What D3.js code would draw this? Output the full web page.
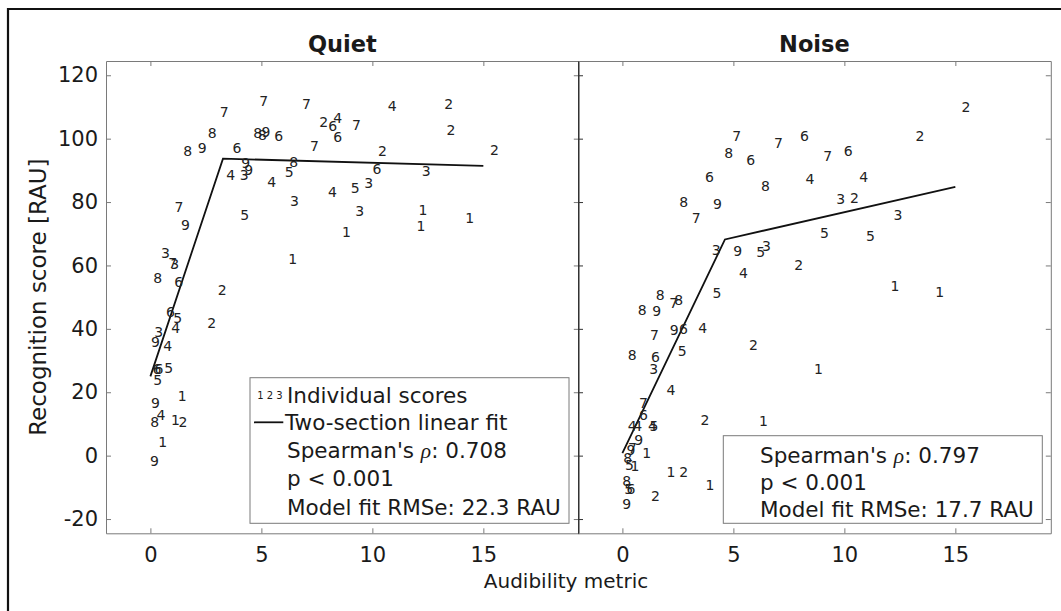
<!DOCTYPE html>
<html>
<head>
<meta charset="utf-8">
<script src="https://cdn.jsdelivr.net/npm/d3@7"></script>
<style>
  body { margin: 0; background: #fff; }
  svg  { display: block; font-family: "DejaVu Sans", sans-serif; }
</style>
</head>
<body>
<div id="chart"></div>
<script>

// --- data ---------------------------------------------------------------
const panelTitles = ["Quiet", "Noise"];
const xTicks = [0, 5, 10, 15];
const yTicks = [-20, 0, 20, 40, 60, 80, 100, 120];

// subject id, audibility metric, recognition score (Quiet)
const quietId = [7,7,7,2,6,4,6,8,8,8,9,6,7,8,9,6,9,9,3,4,8,5,4,3,4,5,7,9,
                 4,2,7,2,2,2,6,3,3,5,3,1,1,1,1,1,3,7,3,8,6,2,6,5,4,2,3,9,4,
                 6,6,5,5,1,9,4,8,1,2,1,9];
const quietX  = [3.33,5.10,7.03,7.81,8.21,8.44,8.44,2.78,4.83,5.05,5.21,5.78,7.39,1.68,2.34,3.90,
                 4.29,4.43,4.23,3.62,6.46,6.25,5.47,6.49,8.20,4.25,1.29,1.58,
                 10.89,13.44,9.28,13.54,10.46,15.50,10.21,12.43,9.83,9.23,9.43,12.28,12.19,14.38,
                 8.83,6.41,0.68,1.00,1.10,0.33,1.28,3.24,0.90,1.23,1.14,2.76,0.37,0.23,0.78,
                 0.30,0.39,0.83,0.33,1.43,0.23,0.48,0.19,1.13,1.47,0.56,0.18];
const quietY  = [108.4,111.9,111.0,105.2,104.0,106.6,100.5,101.7,101.9,101.1,102.1,101.0,97.7,96.1,97.1,97.1,
                 92.2,90.1,88.5,88.5,92.6,89.5,86.3,80.3,83.1,75.9,78.5,72.7,
                 110.3,111.0,104.3,102.6,96.1,96.4,90.3,89.7,86.1,84.5,77.1,77.4,72.4,74.9,
                 70.5,62.2,63.8,60.9,60.6,55.9,54.7,52.2,45.3,43.5,40.4,41.7,39.0,35.8,34.5,
                 27.2,27.2,27.7,24.0,18.7,16.6,12.9,10.5,11.4,10.5,4.3,-1.6];

// subject id, audibility metric, recognition score (Noise)
const noiseId = [7,8,7,6,6,6,8,8,9,7,3,9,5,3,2,2,7,6,4,4,3,2,3,5,5,4,5,2,8,7,8,8,9,9,6,4,
                 7,5,8,6,3,4,7,6,4,4,4,5,9,2,1,9,7,1,8,5,1,1,2,1,8,5,6,9,2,2,1,1,1];
const noiseX  = [5.15,4.79,7.03,8.20,5.78,3.92,6.44,2.76,4.28,3.32,4.23,5.19,6.23,6.49,
                 15.48,13.41,9.25,10.17,8.45,10.87,9.83,10.45,12.42,9.10,11.17,
                 5.45,4.26,5.90,1.70,2.31,2.54,0.89,1.55,2.34,2.75,3.62,1.44,2.69,0.44,1.49,1.41,
                 2.19,0.95,0.95,0.44,0.69,1.35,1.42,0.73,3.72,6.35,0.39,0.45,1.10,0.24,0.32,0.57,
                 2.19,2.76,3.95,0.19,0.28,0.39,0.19,1.49,7.94,12.28,14.30,8.83];
const noiseY  = [100.8,95.6,98.7,101.0,93.3,87.8,85.0,80.1,79.5,75.0,64.8,64.5,64.2,66.1,
                 110.0,101.0,94.5,96.1,87.4,87.9,81.0,81.4,76.0,70.3,69.2,
                 57.5,51.4,35.0,50.6,48.2,49.0,45.9,45.6,39.5,40.1,40.3,38.2,32.9,31.9,31.2,27.4,
                 20.8,16.6,12.9,9.3,9.3,9.3,9.3,5.1,11.2,10.8,1.9,2.5,1.0,-0.7,-2.8,-3.4,
                 -5.0,-5.0,-9.2,-8.1,-10.5,-10.5,-15.2,-12.8,60.3,53.5,51.7,27.2];

// two-section linear fits (start, breakpoint, end)
const quietFitX = [0, 3.27, 15];
const quietFitY = [25.0, 93.7, 91.4];
const noiseFitX = [0, 4.62, 15];
const noiseFitY = [0.8, 68.2, 84.8];

const rhoValues  = ["0.708", "0.797"];
const pTexts     = ["p < 0.001", "p < 0.001"];
const rmseValues = ["22.3", "17.7"];

// --- layout -------------------------------------------------------------
const width = 1061, height = 611;
const plotTop = 61, plotBottom = 533.3, panelW = 472.8;
const lefts = [106, 578];
const axisGray = "#7a7a7a", ink = "#1a1a1a";

const svg = d3.select("#chart").append("svg")
  .attr("width", width)
  .attr("height", height);

// outer frame (only top/left edges visible)
svg.append("path")
  .attr("d", `M8,${height} V9 H${width}`)
  .attr("fill", "none")
  .attr("stroke", "#111")
  .attr("stroke-width", 2.2);

const y = d3.scaleLinear().domain([-24.5, 124.5]).range([plotBottom, plotTop]);

function styleAxis(g, color) {
  g.attr("font-family", null).attr("font-size", 21).attr("color", color);
  g.selectAll("text").attr("fill", ink);
}

function drawPanel(i, ids, xs, ys, fitX, fitY) {
  const x0 = lefts[i], x1 = x0 + panelW;
  const x = d3.scaleLinear().domain([-2, 19.3]).range([x0, x1]);
  const g = svg.append("g");

  g.append("g")
    .attr("transform", `translate(0,${plotBottom})`)
    .call(d3.axisBottom(x).tickValues(xTicks).tickSize(-5).tickSizeOuter(0).tickPadding(14))
    .call(a => styleAxis(a, axisGray));

  g.append("g")
    .attr("transform", `translate(0,${plotTop})`)
    .call(d3.axisTop(x).tickValues(xTicks).tickSize(-5).tickSizeOuter(0).tickFormat(""))
    .call(a => styleAxis(a, axisGray));

  g.append("g")
    .attr("transform", `translate(${x1},0)`)
    .call(d3.axisRight(y).tickValues(yTicks).tickSize(-5).tickSizeOuter(0).tickFormat(""))
    .call(a => styleAxis(a, axisGray));

  g.append("g")
    .attr("transform", `translate(${x0},0)`)
    .call(d3.axisLeft(y).tickValues(yTicks).tickSize(-5).tickSizeOuter(0).tickPadding(8)
      .tickFormat(i === 0 ? (d => String(d)) : ""))
    .call(a => styleAxis(a, i === 0 ? axisGray : "#333"));

  // title
  g.append("text")
    .attr("x", (x0 + x1) / 2)
    .attr("y", 51.8)
    .attr("text-anchor", "middle")
    .attr("font-weight", "bold")
    .attr("font-size", 22.5)
    .attr("fill", ink)
    .text(panelTitles[i]);

  // fit line
  g.append("path")
    .datum(d3.range(fitX.length))
    .attr("fill", "none")
    .attr("stroke", "#111")
    .attr("stroke-width", 1.8)
    .attr("d", d3.line().x(k => x(fitX[k])).y(k => y(fitY[k])));

  // individual scores, drawn as subject digits
  g.append("g")
    .selectAll("text")
    .data(d3.range(ids.length))
    .join("text")
      .attr("x", k => x(xs[k]))
      .attr("y", k => y(ys[k]))
      .attr("dy", "0.36em")
      .attr("text-anchor", "middle")
      .attr("font-size", 14)
      .attr("fill", "#222")
      .text(k => ids[k]);
}

drawPanel(0, quietId, quietX, quietY, quietFitX, quietFitY);
drawPanel(1, noiseId, noiseX, noiseY, noiseFitX, noiseFitY);

// --- legends -------------------------------------------------------------
function statLines(g, i, tx, baselines) {
  const t1 = g.append("text").attr("x", tx).attr("y", baselines[0]);
  t1.append("tspan").text("Spearman's ");
  t1.append("tspan")
    .attr("font-family", "'Liberation Serif', serif")
    .attr("font-style", "italic")
    .text("\u03C1");
  t1.append("tspan").text(": " + rhoValues[i]);
  g.append("text").attr("x", tx).attr("y", baselines[1]).text(pTexts[i]);
  g.append("text").attr("x", tx).attr("y", baselines[2]).text("Model fit RMSe: " + rmseValues[i] + " RAU");
}

const leg1 = svg.append("g").attr("font-size", 21.5).attr("fill", ink);
leg1.append("rect")
  .attr("x", 250).attr("y", 377.7).attr("width", 319).attr("height", 145.6)
  .attr("fill", "#fff").attr("stroke", axisGray);
leg1.append("text")
  .attr("x", 270).attr("y", 398.6)
  .attr("text-anchor", "middle")
  .attr("font-size", 10)
  .text("1 2 3");
leg1.append("text").attr("x", 287).attr("y", 402.8).text("Individual scores");
leg1.append("line")
  .attr("x1", 254).attr("x2", 283.3).attr("y1", 422.3).attr("y2", 422.3)
  .attr("stroke", "#111").attr("stroke-width", 1.8);
leg1.append("text").attr("x", 285).attr("y", 430.3).text("Two-section linear fit");
statLines(leg1, 0, 287, [457.8, 485.8, 514.5]);

const leg2 = svg.append("g").attr("font-size", 21.5).attr("fill", ink);
leg2.append("rect")
  .attr("x", 723.3).attr("y", 435.7).attr("width", 319).attr("height", 87.6)
  .attr("fill", "#fff").attr("stroke", axisGray);
statLines(leg2, 1, 760, [462.5, 490, 517]);

// --- axis labels ----------------------------------------------------------
svg.append("text")
  .attr("transform", `translate(46.3,${(plotTop + plotBottom) / 2}) rotate(-90)`)
  .attr("text-anchor", "middle")
  .attr("font-size", 23)
  .attr("fill", ink)
  .text("Recognition score [RAU]");

svg.append("text")
  .attr("x", 566)
  .attr("y", 587.8)
  .attr("text-anchor", "middle")
  .attr("font-size", 20)
  .attr("fill", ink)
  .text("Audibility metric");

</script>
</body>
</html>
